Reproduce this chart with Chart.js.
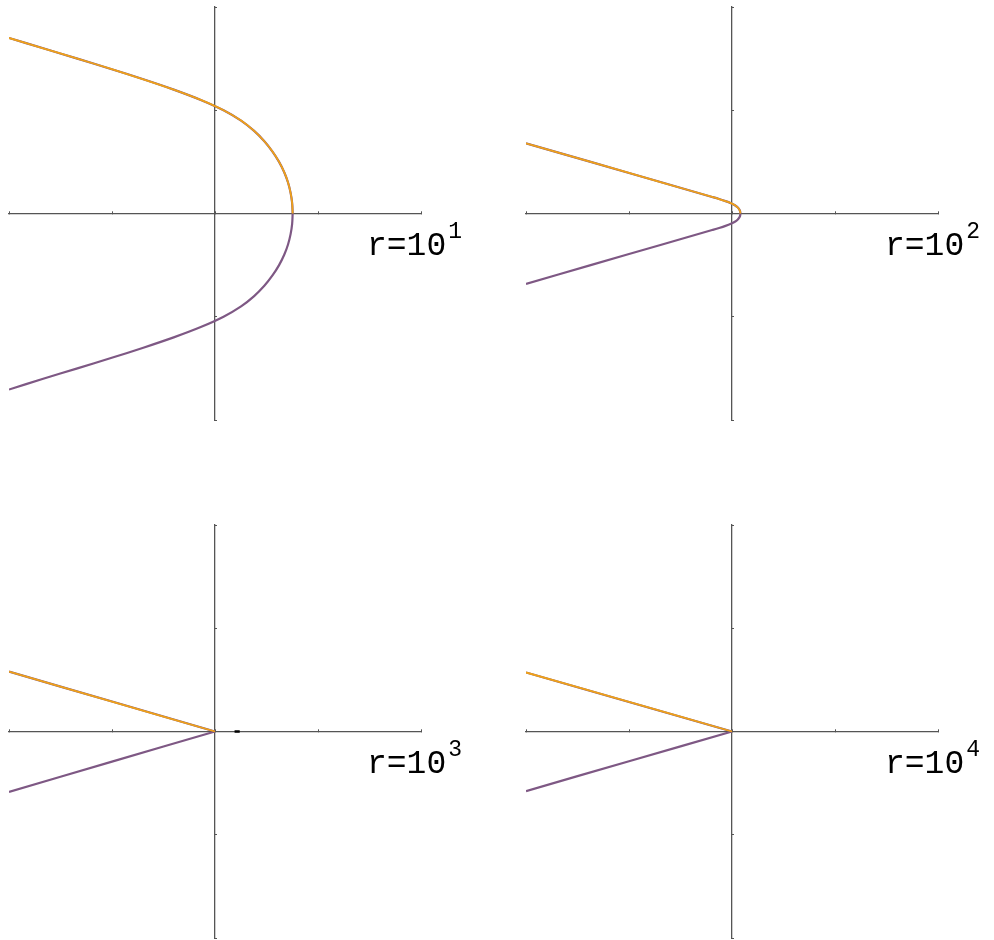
<!DOCTYPE html>
<html>
<head>
<meta charset="utf-8">
<script src="https://cdn.jsdelivr.net/npm/chart.js@4/dist/chart.umd.min.js"></script>
<style>
  html, body { margin: 0; padding: 0; background: #ffffff; overflow: hidden; }
  #wrap { position: relative; width: 994px; height: 940px; }
  canvas { position: absolute; }
  .lbl { position: absolute; font-family: "Liberation Mono", "DejaVu Sans Mono", monospace; font-size: 33px; line-height: 33px; color: #000; white-space: nowrap; }
  .lbl sup { font-size: 23px; position: relative; top: -17px; vertical-align: baseline; line-height: 0; margin-left: 2px; }
</style>
</head>
<body>
<div id="wrap">
  <canvas id="c1" width="461" height="422" style="left:0px;top:0px"></canvas>
  <canvas id="c2" width="461" height="422" style="left:517px;top:0px"></canvas>
  <canvas id="c3" width="461" height="422" style="left:0px;top:518px"></canvas>
  <canvas id="c4" width="461" height="422" style="left:517px;top:518px"></canvas>
  <div class="lbl" style="left:367px;top:230px">r=10<sup>1</sup></div>
  <div class="lbl" style="left:885px;top:230px">r=10<sup>2</sup></div>
  <div class="lbl" style="left:367px;top:748px">r=10<sup>3</sup></div>
  <div class="lbl" style="left:885px;top:748px">r=10<sup>4</sup></div>
</div>
<script>
// ---- data ----
const panelLabels = ["r=10^1", "r=10^2", "r=10^3", "r=10^4"];
const tickValues = [-2, -1, 0, 1, 2];

// r = 10^1
const p1UpperX = [-2.0, -1.668, -1.336, -1.01, -0.696, -0.401, -0.138, 0.083, 0.253, 0.38, 0.479, 0.558, 0.622, 0.672, 0.709, 0.734, 0.749, 0.754];
const p1UpperY = [1.70, 1.60, 1.50, 1.40, 1.30, 1.20, 1.10, 1.00, 0.90, 0.80, 0.70, 0.60, 0.50, 0.40, 0.30, 0.20, 0.10, 0.0];
const p1LowerX = [0.754, 0.749, 0.734, 0.709, 0.672, 0.622, 0.558, 0.479, 0.38, 0.253, 0.083, -0.138, -0.401, -0.696, -1.01, -1.336, -1.668, -2.0];
const p1LowerY = [0.0, -0.10, -0.20, -0.30, -0.40, -0.50, -0.60, -0.70, -0.80, -0.90, -1.00, -1.10, -1.20, -1.30, -1.40, -1.50, -1.60, -1.705];

// r = 10^2
const p2UpperX = [-2.0, -1.372, -0.678, -0.193, -0.125, -0.063, -0.011, 0.028, 0.054, 0.070, 0.079, 0.082];
const p2UpperY = [0.68, 0.50, 0.30, 0.16, 0.14, 0.12, 0.10, 0.08, 0.06, 0.04, 0.02, 0.0];
const p2LowerX = [0.082, 0.079, 0.070, 0.054, 0.028, -0.011, -0.063, -0.125, -0.193, -0.678, -1.372, -2.0];
const p2LowerY = [0.0, -0.02, -0.04, -0.06, -0.08, -0.10, -0.12, -0.14, -0.16, -0.30, -0.50, -0.683];

// r = 10^3
const p3UpperX = [-2.0, -1.0, 0.0];
const p3UpperY = [0.58, 0.29, 0.0];
const p3LowerX = [0.0, -1.0, -2.0];
const p3LowerY = [0.0, -0.292, -0.585];
const p3MarkX = [0.19, 0.24];
const p3MarkY = [0.0, 0.0];

// r = 10^4
const p4UpperX = [-2.0, -1.0, 0.0];
const p4UpperY = [0.572, 0.286, 0.0];
const p4LowerX = [0.0, -1.0, -2.0];
const p4LowerY = [0.0, -0.288, -0.577];

// ---- styles ----
const ORANGE = "rgb(240,162,24)";
const PURPLE = "rgb(126,88,132)";
const AXIS = "rgb(85,85,85)";

function pts(xs, ys) { return xs.map((x, i) => ({ x: x, y: ys[i] })); }

function axisScale(axisKey, otherKey) {
  const pos = {}; pos[otherKey] = 0;
  return {
    type: "linear", min: -2, max: 2, position: pos,
    afterBuildTicks: (s) => { s.ticks = tickValues.map(v => ({ value: v })); },
    ticks: { display: false },
    grid: { drawOnChartArea: false, drawTicks: true, tickLength: -3, tickColor: AXIS, tickWidth: 1, color: AXIS },
    border: { display: true, color: AXIS, width: 1.3 }
  };
}

function line(label, data, color, width, order) {
  return { label: label, data: data, borderColor: color, borderWidth: width, showLine: true, pointRadius: 0, tension: 0.3, order: order };
}

function makeChart(id, upX, upY, loX, loY, extra) {
  const datasets = [
    line("upper-base", pts(upX, upY), PURPLE, 2.2, 3),
    line("lower", pts(loX, loY), PURPLE, 2.2, 2),
    line("upper", pts(upX, upY), ORANGE, 1.8, 1)
  ];
  if (extra) datasets.push(extra);
  new Chart(document.getElementById(id), {
    type: "scatter",
    data: { datasets: datasets },
    options: {
      responsive: false, animation: false, events: [],
      layout: { padding: { left: 9, top: 7, right: 40, bottom: 2 } },
      plugins: { legend: { display: false }, tooltip: { enabled: false }, title: { display: false } },
      scales: { x: axisScale("x", "y"), y: axisScale("y", "x") }
    }
  });
}

makeChart("c1", p1UpperX, p1UpperY, p1LowerX, p1LowerY);
makeChart("c2", p2UpperX, p2UpperY, p2LowerX, p2LowerY);
makeChart("c3", p3UpperX, p3UpperY, p3LowerX, p3LowerY,
  { label: "mark", data: pts(p3MarkX, p3MarkY), borderColor: "#000", borderWidth: 2.5, showLine: true, pointRadius: 0, order: 0 });
makeChart("c4", p4UpperX, p4UpperY, p4LowerX, p4LowerY);
</script>
</body>
</html>
